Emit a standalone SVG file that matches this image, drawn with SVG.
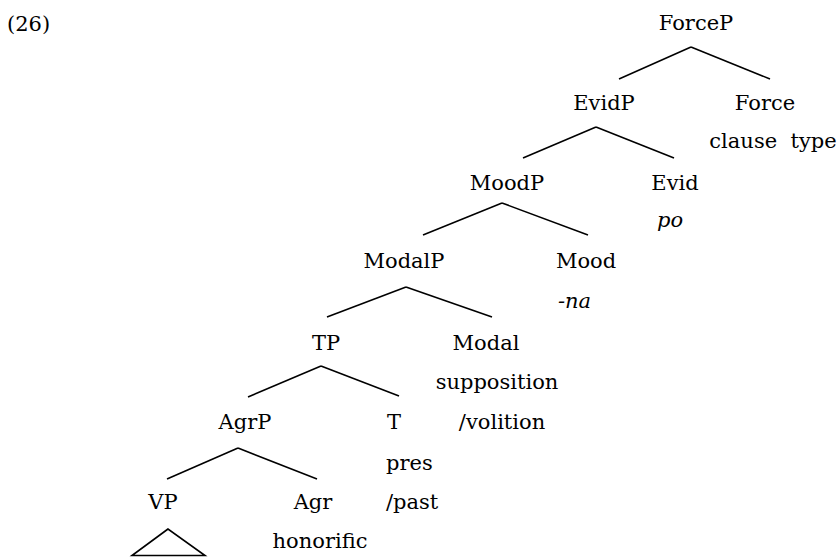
<svg xmlns="http://www.w3.org/2000/svg" width="838" height="557" viewBox="0 0 838 557">
<style>
text{font-family:"DejaVu Serif","Liberation Serif",serif;font-size:21px;fill:#000}
.m{text-anchor:middle}
.i{font-style:italic}
.pre{white-space:pre}
.e line,.e polygon{stroke:#000;stroke-width:1.6;fill:none}
</style>
<rect width="838" height="557" fill="#fff"/>
<text x="7" y="31">(26)</text>
<g id="ForceP"><text class="m" x="696" y="30">ForceP</text></g>
<g id="EvidP"><text class="m" x="604" y="110">EvidP</text></g>
<g id="Force"><text class="m" x="765" y="110">Force</text><text class="m pre" x="773" y="148">clause  type</text></g>
<g id="MoodP"><text class="m" x="507" y="190">MoodP</text></g>
<g id="Evid"><text class="m" x="675" y="190">Evid</text><text class="m i" x="670" y="227">po</text></g>
<g id="ModalP"><text class="m" x="404" y="268">ModalP</text></g>
<g id="Mood"><text class="m" x="586" y="268">Mood</text><text class="i" x="558" y="308">-na</text></g>
<g id="TP"><text class="m" x="326" y="350">TP</text></g>
<g id="Modal"><text class="m" x="486" y="350">Modal</text><text class="m" x="497" y="389">supposition</text><text class="m" x="502" y="429">/volition</text></g>
<g id="AgrP"><text class="m" x="245" y="429">AgrP</text></g>
<g id="T"><text class="m" x="394" y="429">T</text><text x="386" y="470">pres</text><text x="386" y="509">/past</text></g>
<g id="VP"><text class="m" x="163" y="509">VP</text></g>
<g id="Agr"><text class="m" x="313" y="509">Agr</text><text class="m" x="320" y="548">honorific</text></g>
<g id="connectors" class="e">
<line x1="691" y1="47" x2="619" y2="79"/><line x1="691" y1="47" x2="770" y2="79"/>
<line x1="596" y1="127" x2="523" y2="158"/><line x1="596" y1="127" x2="674" y2="158"/>
<line x1="502" y1="203" x2="423" y2="235"/><line x1="502" y1="203" x2="588" y2="235"/>
<line x1="406" y1="287" x2="327" y2="317"/><line x1="406" y1="287" x2="492" y2="317"/>
<line x1="321" y1="366" x2="248" y2="397"/><line x1="321" y1="366" x2="399" y2="396"/>
<line x1="238" y1="448" x2="167" y2="479"/><line x1="238" y1="448" x2="317" y2="479"/>
<polygon points="168,529 132,555.5 205,555.5"/>
</g>
</svg>
